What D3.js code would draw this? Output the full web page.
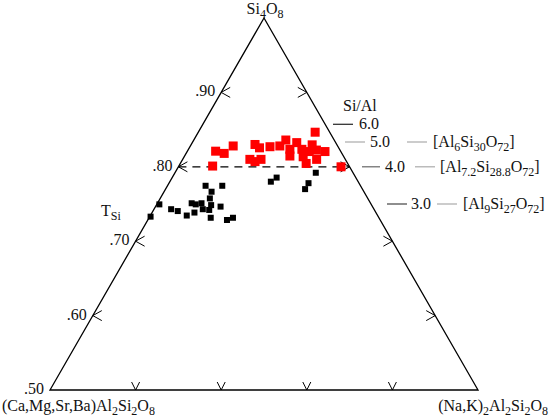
<!DOCTYPE html>
<html><head><meta charset="utf-8">
<script src="https://cdn.jsdelivr.net/npm/d3@7"></script>
<style>body{margin:0;background:#fff}svg{display:block}text{font-family:"Liberation Serif","Times New Roman",serif;fill:#111}</style>
</head><body><div id="chart"></div>
<script>
// Ternary fractions: si = Si4O8, nak = (Na,K)2Al2Si2O8 (remainder = (Ca,Mg,Sr,Ba)Al2Si2O8)
const redSi  = [0.693,0.656,0.642,0.636,0.602,0.660,0.651,0.654,0.656,0.672,0.665,0.647,0.629,0.647,0.627,0.609,0.641,0.645,0.620,0.641,0.620,0.614,0.620,0.600,0.659];
const redNaK = [0.273,0.100,0.066,0.089,0.079,0.149,0.164,0.187,0.209,0.215,0.244,0.237,0.246,0.265,0.278,0.294,0.285,0.300,0.313,0.322,0.157,0.172,0.183,0.380,0.283];
const blackSi  = [0.499,0.466,0.486,0.481,0.549,0.549,0.533,0.515,0.502,0.499,0.502,0.497,0.493,0.486,0.484,0.469,0.477,0.463,0.457,0.463,0.560,0.571,0.584,0.556,0.540];
const blackNaK = [0.006,0.002,0.040,0.058,0.089,0.128,0.111,0.116,0.080,0.091,0.103,0.128,0.152,0.114,0.130,0.085,0.099,0.144,0.185,0.196,0.236,0.244,0.329,0.326,0.326];
const tsiTicks = [0.50,0.60,0.70,0.80,0.90];
const tsiTickLabels = [".50",".60",".70",".80",".90"];
const bottomTicks = [0.2,0.4,0.6,0.8];
const siAlRatios = [6.0,5.0,4.0,3.0];
const siAlLabels = ["6.0","5.0","4.0","3.0"];
const siAlFormulas = [null,
  [["[Al",0],["6",1],["Si",0],["30",1],["O",0],["72",1],["]",0]],
  [["[Al",0],["7.2",1],["Si",0],["28.8",1],["O",0],["72",1],["]",0]],
  [["[Al",0],["9",1],["Si",0],["27",1],["O",0],["72",1],["]",0]]];

const W=550,H=420;
const svg=d3.select("#chart").append("svg").attr("width",W).attr("height",H);
const xs=d3.scaleLinear().domain([0,1]).range([50,478]);
const ys=d3.scaleLinear().domain([0,1]).range([390,18]);
const px=(a,c)=>xs(c+a/2), py=a=>ys(a);
const tsiToA=t=>2*t-1;

function richText(parent,x,y,parts,anchor,size,subSize){
  const t=parent.append("text").attr("x",x).attr("y",y).attr("font-size",size||16).attr("text-anchor",anchor||"start");
  let sub=false;
  parts.forEach(([s,isSub])=>{
    const ts=t.append("tspan").text(s);
    if(isSub){ts.attr("font-size",subSize||12); if(!sub){ts.attr("dy",4);sub=true;}}
    else if(sub){ts.attr("dy",-4);sub=false;}
  });
  return t;
}

// triangle
const tri=[[1,0],[0,0],[0,1]].map(([a,c])=>[px(a,c),py(a)]);
svg.append("path").attr("d",d3.line()(tri)+"Z").attr("fill","none").attr("stroke","#000").attr("stroke-width",1.3);

// dashed line Si/Al=4 -> Tsi .80
const aD=tsiToA(0.8);
svg.append("line").attr("x1",px(aD,0)).attr("x2",px(aD,1-aD)).attr("y1",py(aD)).attr("y2",py(aD))
  .attr("stroke","#000").attr("stroke-width",1.3).attr("stroke-dasharray","8,6");

// ticks
const g=svg.append("g").attr("stroke","#000").attr("stroke-width",1).attr("fill","none");
tsiTicks.slice(1).forEach(t=>{
  const a=tsiToA(t);
  const xl=px(a,0), xr=px(a,1-a), y=py(a);
  g.append("path").attr("d",`M${xl+9},${y-5}L${xl},${y}L${xl+9},${y+5}`);
  g.append("path").attr("d",`M${xr-9},${y-5}L${xr},${y}L${xr-9},${y+5}`);
});
bottomTicks.forEach(c=>{
  const x=px(0,c), y=py(0);
  g.append("path").attr("d",`M${x-4},${y-8}L${x},${y}L${x+4},${y-8}`);
});
// left labels
tsiTicks.forEach((t,i)=>{
  const a=tsiToA(t);
  svg.append("text").attr("x",px(a,0)-6).attr("y",py(a)+4).attr("text-anchor","end").attr("font-size",16).text(tsiTickLabels[i]);
});

// points
svg.append("g").selectAll("rect").data(blackSi.map((a,i)=>[a,blackNaK[i]])).join("rect")
  .attr("x",d=>px(d[0],d[1])-3).attr("y",d=>py(d[0])-3).attr("width",6).attr("height",6).attr("fill","#000");
svg.append("g").selectAll("rect").data(redSi.map((a,i)=>[a,redNaK[i]])).join("rect")
  .attr("x",d=>px(d[0],d[1])-4.5).attr("y",d=>py(d[0])-4.5).attr("width",9).attr("height",9).attr("fill","#ff0000");

// Si/Al annotations
svg.append("text").attr("x",343).attr("y",111).attr("font-size",16).text("Si/Al");
const lineStart=[333,345,362,387], lineLen=[20,20,18,20], labelX=[359,370,385,411];
const fLineX=[null,407,415,437], fTextX=[null,433,440,463];
const lineCol=["#222","#aaa","#666","#444"];
siAlRatios.forEach((r,i)=>{
  const y=py(tsiToA(r/(r+1)));
  svg.append("line").attr("x1",lineStart[i]).attr("x2",lineStart[i]+lineLen[i]).attr("y1",y).attr("y2",y).attr("stroke",lineCol[i]).attr("stroke-width",1.2);
  svg.append("text").attr("x",labelX[i]).attr("y",y+5).attr("font-size",16).text(siAlLabels[i]);
  if(siAlFormulas[i]){
    svg.append("line").attr("x1",fLineX[i]).attr("x2",fLineX[i]+20).attr("y1",y).attr("y2",y).attr("stroke","#aaa").attr("stroke-width",1.2);
    richText(svg,fTextX[i],y+5,siAlFormulas[i],"start",16,12);
  }
});

// vertex labels
richText(svg,265,14,[["Si",0],["4",1],["O",0],["8",1]],"middle",16,12);
richText(svg,2,411,[["(Ca,Mg,Sr,Ba)Al",0],["2",1],["Si",0],["2",1],["O",0],["8",1]],"start",16,12);
richText(svg,548,411,[["(Na,K)",0],["2",1],["Al",0],["2",1],["Si",0],["2",1],["O",0],["8",1]],"end",16,12);
richText(svg,101,216,[["T",0],["Si",1]],"start",16,12);
</script></body></html>
